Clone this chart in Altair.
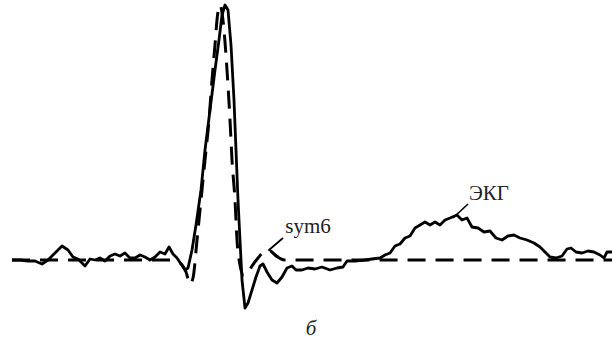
import altair as alt
import pandas as pd

# ECG record (solid): sample position and amplitude
ecg_t = [12, 20, 28, 35, 42, 48, 55, 62, 68, 73, 78, 85, 90, 95, 100, 105, 110, 115, 120, 125,
         130, 135, 140, 145, 150, 155, 160, 165, 169, 173, 177, 181, 185, 188, 192, 196, 201, 205,
         210, 215, 219, 222, 225, 228, 231, 234, 236, 238, 240, 242, 245, 248, 252, 256, 260, 263,
         267, 272, 277, 282, 287, 292, 296, 302, 308, 315, 322, 330, 337, 343, 347, 355, 365, 372,
         380, 385, 390, 395, 400, 405, 410, 415, 420, 425, 430, 435, 440, 445, 450, 457, 462, 467,
         472, 478, 484, 490, 496, 502, 508, 514, 520, 527, 534, 540, 545, 550, 556, 562, 567, 571,
         576, 582, 588, 594, 600, 604, 607, 612]
ecg_v = [0, 0, -1, -1, -4, 0, 7, 14, 10, 3, 1, -6, 1, 0, 2, -1, 4, 6, 4, 7,
         2, 2, 5, 3, 0, 3, 8, 6, 13, 6, 2, -4, -10, -8, 10, 35, 70, 110,
         150, 190, 220, 245, 255, 250, 215, 160, 110, 60, 20, -20, -48, -43, -30, -17, -6, -4,
         -12, -20, -23, -17, -8, -6, -10, -10, -8, -9, -7, -10, -8, -7, -1, -1, 0, 1,
         2, 5, 7, 14, 16, 22, 24, 32, 35, 38, 35, 38, 35, 40, 42, 45, 40, 42,
         33, 32, 28, 29, 22, 20, 24, 25, 22, 20, 17, 13, 8, 3, 2, 4, 11, 12,
         8, 7, 9, 8, 5, 2, 8, 8]

# sym6 wavelet (dashed)
sym_t = [12, 170, 180, 186, 190, 193, 197, 201, 205, 209, 212, 215, 217, 220, 224, 227, 230,
         232, 235, 237, 240, 243, 247, 252, 258, 264, 270, 276, 285, 612]
sym_v = [0, 0, -3, -12, -24, -18, 20, 60, 100, 140, 180, 215, 240, 255, 230, 190, 140,
         100, 60, 20, -5, -15, -14, -6, 2, 8, 9, 4, 0, 0]

# labels
label_text = ["ЭКГ", "sym6"]
label_t = [489, 308]
label_v = [60, 27]

ecg = pd.DataFrame({"t": ecg_t, "v": ecg_v})
sym = pd.DataFrame({"t": sym_t, "v": sym_v})
labels = pd.DataFrame({"text": label_text, "t": label_t, "v": label_v})
ptr_ecg = pd.DataFrame({"t": [453, 468], "v": [42, 56], "o": [0, 1]})
ptr_sym = pd.DataFrame({"t": [283, 269, 279], "v": [22, 10, 3], "o": [0, 1, 2]})

SERIF = "'Liberation Serif', 'DejaVu Serif', serif"

xs = alt.Scale(domain=[0, 616], nice=False, zero=False)
ys = alt.Scale(domain=[-80, 260], nice=False, zero=False)
X = lambda: alt.X("t:Q", scale=xs, axis=None)
Y = lambda: alt.Y("v:Q", scale=ys, axis=None)

sym_line = alt.Chart(sym).mark_line(color="black", strokeWidth=3, strokeDash=[18, 10],
                                    interpolate="monotone").encode(x=X(), y=Y())
ecg_line = alt.Chart(ecg).mark_line(color="black", strokeWidth=2.8, strokeJoin="round").encode(x=X(), y=Y())
p1 = alt.Chart(ptr_ecg).mark_line(color="black", strokeWidth=1.6).encode(x=X(), y=Y(), order="o:Q")
p2 = alt.Chart(ptr_sym).mark_line(color="black", strokeWidth=1.8).encode(x=X(), y=Y(), order="o:Q")
txt = alt.Chart(labels).mark_text(font=SERIF, fontSize=21, color="#222",
                                  baseline="alphabetic").encode(x=X(), y=Y(), text="text:N")
sub = alt.Chart(pd.DataFrame({"text": ["б"], "t": [311], "v": [-75]})).mark_text(
    font=SERIF, fontSize=21, fontStyle="italic", color="#222",
    baseline="alphabetic").encode(x=X(), y=Y(), text="text:N")

chart = alt.layer(sym_line, ecg_line, p1, p2, txt, sub).properties(
    width=616, height=340, autosize=alt.AutoSizeParams(type="none"), padding=0,
    background="white"
).configure_view(stroke=None)

chart.save("out.html", embed_options={"renderer": "svg", "actions": False})
